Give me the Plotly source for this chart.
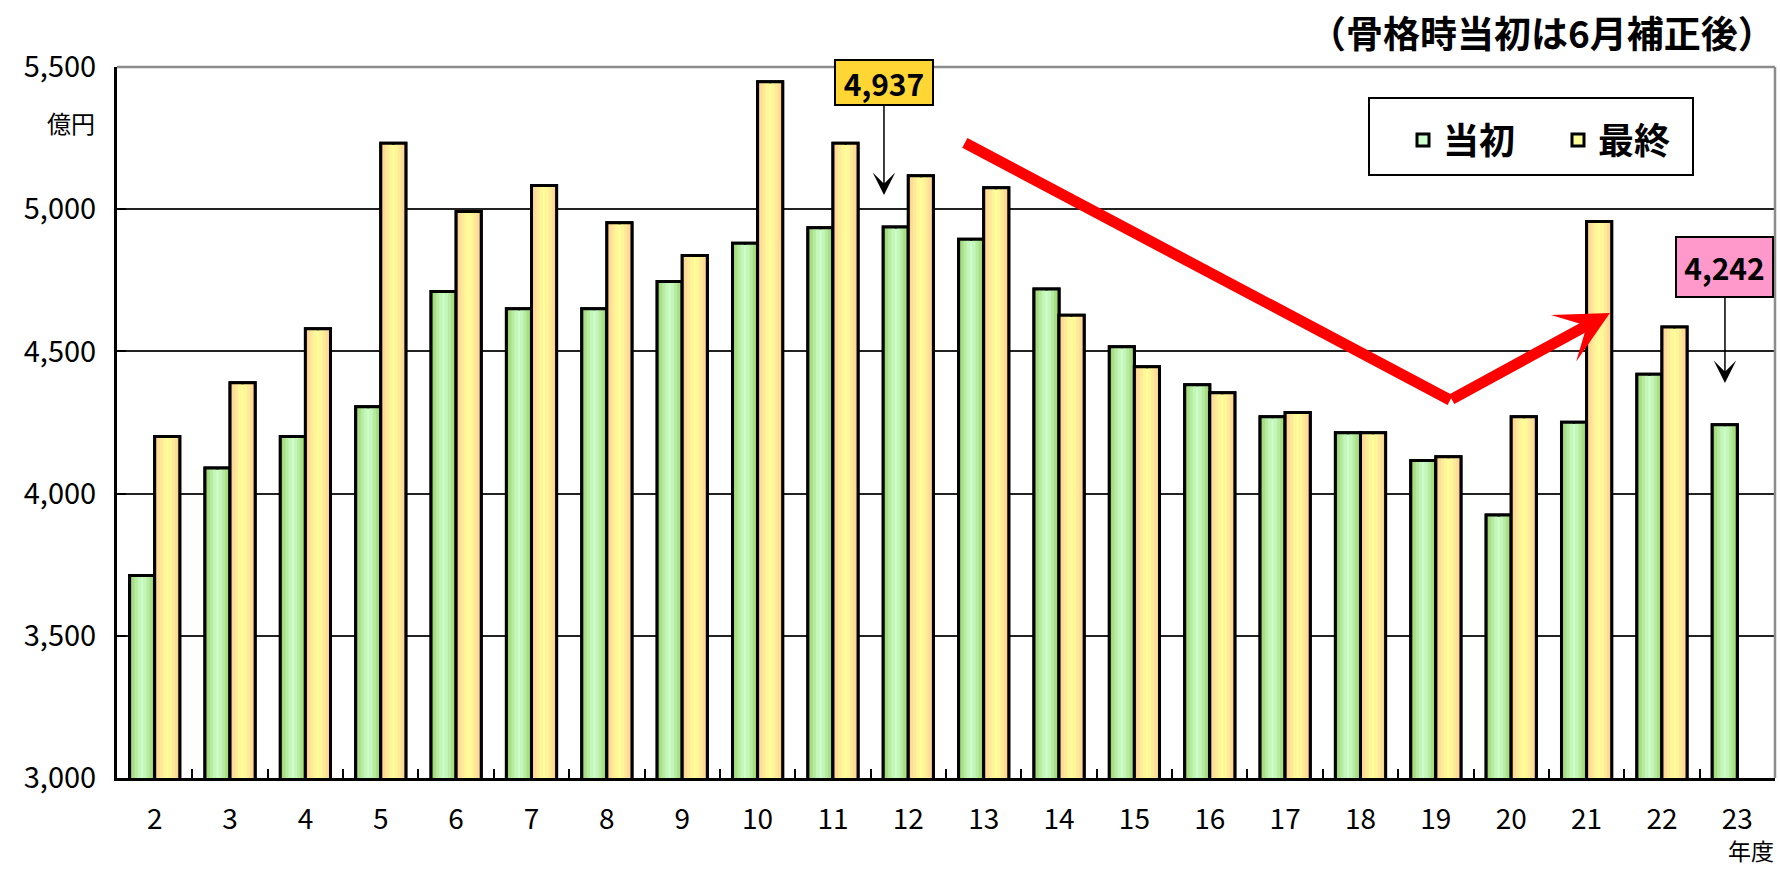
import plotly.graph_objects as go

# ---------------- data ----------------
years = ["2", "3", "4", "5", "6", "7", "8", "9", "10", "11", "12",
         "13", "14", "15", "16", "17", "18", "19", "20", "21", "22", "23"]
initial = [3712, 4090, 4201, 4305, 4711, 4650, 4650, 4746, 4880, 4935, 4937,
           4894, 4719, 4516, 4383, 4270, 4214, 4116, 3925, 4251, 4420, 4242]
final = [4201, 4390, 4580, 5232, 4992, 5083, 4952, 4837, 5448, 5232, 5118,
         5075, 4627, 4446, 4355, 4285, 4214, 4130, 4270, 4957, 4586, None]
y_ticks = [3000, 3500, 4000, 4500, 5000, 5500]

series_names = ["当初", "最終"]
title_text = "（骨格時当初は6月補正後）"
unit_text = "億円"
xunit_text = "年度"

# decorative trend arrow (category index, value)
trend_start = [10.75, 5233]
trend_vertex = [17.19, 4329]
trend_tip = [19.31, 4635]

# ---------------- style ----------------
FONT = "Noto Sans CJK JP"
BAR_W = 0.333
green_center = "#CCFFCC"
green_bands = [(0.46, "#C3F6B8"), (0.32, "#B6EBA0"), (0.20, "#A8DF86"), (0.09, "#96D064")]
yellow_center = "#FFFF99"
yellow_bands = [(0.46, "#FFF699"), (0.32, "#FFEA99"), (0.20, "#FFDD97"), (0.09, "#FFCC90")]

fig = go.Figure()


def add_series(name, vals, off, center, bands):
    fig.add_trace(go.Bar(x=years, y=vals, name=name, offset=off, width=BAR_W,
                         marker=dict(color=center, line=dict(color="black", width=3)),
                         showlegend=True, hoverinfo="skip"))
    for frac, col in bands:
        w = BAR_W * frac
        for o in (off, off + BAR_W - w):
            fig.add_trace(go.Bar(x=years, y=vals, offset=o, width=w,
                                 marker=dict(color=col, line=dict(width=0)),
                                 showlegend=False, hoverinfo="skip"))
    fig.add_trace(go.Bar(x=years, y=vals, offset=off, width=BAR_W,
                         marker=dict(color="rgba(0,0,0,0)", line=dict(color="black", width=3)),
                         showlegend=False, hoverinfo="skip"))


add_series(series_names[0], initial, -BAR_W, green_center, green_bands)
add_series(series_names[1], final, 0.0, yellow_center, yellow_bands)

# ---------------- layout ----------------
W, H = 1780, 869
ML, MR, MT, MB = 117, 5, 67, 91
PW, PH = W - ML - MR, H - MT - MB


def px(xp):
    return (xp - ML) / PW


def py(yp):
    return (H - MB - yp) / PH


fig.update_layout(
    width=W, height=H,
    margin=dict(l=ML, r=MR, t=MT, b=MB, pad=0),
    barmode="overlay",
    plot_bgcolor="white", paper_bgcolor="white",
    font=dict(family=FONT, color="black"),
    showlegend=True,
    legend=dict(orientation="h", x=px(1403), y=py(140), xanchor="left", yanchor="middle",
                bgcolor="rgba(0,0,0,0)", borderwidth=0, entrywidth=110,
                font=dict(size=36, family=FONT, color="black", weight="bold"),
                traceorder="normal", itemclick=False),
    xaxis=dict(type="category", range=[-0.5, len(years) - 0.5],
               showline=True, linecolor="black", linewidth=3,
               ticks="inside", tickson="boundaries", ticklen=9, tickwidth=2, tickcolor="black",
               showgrid=False, tickfont=dict(size=28, family=FONT, color="black"),
               ticklabelstandoff=14, fixedrange=True),
    yaxis=dict(range=[3000, 5500], tickvals=y_ticks, tickformat=",",
               showline=True, linecolor="black", linewidth=3,
               ticks="inside", ticklen=9, tickwidth=2, tickcolor="black",
               showgrid=True, gridcolor="#222222", gridwidth=1.5,
               tickfont=dict(size=29, family=FONT, color="black"),
               ticklabelstandoff=12, zeroline=False, fixedrange=True),
)

# gray top / right frame
fig.add_shape(type="line", xref="paper", yref="paper", x0=0, x1=1, y0=1, y1=1,
              line=dict(color="#8C8C8C", width=2.5))
fig.add_shape(type="line", xref="paper", yref="paper", x0=1, x1=1, y0=0, y1=1,
              line=dict(color="#8C8C8C", width=2.5))

# legend frame
fig.add_shape(type="rect", xref="paper", yref="paper",
              x0=px(1369), x1=px(1693), y0=py(175), y1=py(98),
              line=dict(color="black", width=2), fillcolor="white", layer="below")

# red trend line + arrow
fig.add_shape(type="line", xref="x", yref="y",
              x0=trend_start[0], y0=trend_start[1], x1=trend_vertex[0], y1=trend_vertex[1],
              line=dict(color="#FF0000", width=11))
fig.add_annotation(x=trend_tip[0], y=trend_tip[1], ax=trend_vertex[0], ay=trend_vertex[1],
                   xref="x", yref="y", axref="x", ayref="y", text="", showarrow=True,
                   arrowhead=3, arrowsize=0.8, arrowwidth=11, arrowcolor="#FF0000")

# callouts
fig.add_annotation(x=9.677, y=5050, xref="x", yref="y", text=f"<b>{initial[10]:,}</b>",
                   showarrow=True, ax=0, ay=-112, arrowhead=3, arrowsize=2.5, arrowwidth=1.5,
                   arrowcolor="black", bgcolor="#FFD633", bordercolor="black", borderwidth=2,
                   borderpad=0, width=96, height=43, font=dict(size=30, family=FONT, color="black"))
fig.add_annotation(x=20.836, y=4389, xref="x", yref="y", text=f"<b>{initial[21]:,}</b>",
                   showarrow=True, ax=0, ay=-116, arrowhead=3, arrowsize=2.5, arrowwidth=1.5,
                   arrowcolor="black", bgcolor="#FF99CC", bordercolor="black", borderwidth=2,
                   borderpad=0, width=95, height=58, font=dict(size=30, family=FONT, color="black"))

# texts
fig.add_annotation(xref="paper", yref="paper", x=px(1777), y=py(32), xanchor="right", yanchor="middle",
                   text=f"<b>{title_text}</b>", showarrow=False,
                   font=dict(size=37, family=FONT, color="black"))
fig.add_annotation(xref="paper", yref="paper", x=px(71), y=py(122), xanchor="center", yanchor="middle",
                   text=unit_text, showarrow=False, font=dict(size=24, family=FONT, color="black"))
fig.add_annotation(xref="paper", yref="paper", x=px(1751), y=py(850), xanchor="center", yanchor="middle",
                   text=xunit_text, showarrow=False, font=dict(size=23, family=FONT, color="black"))

fig.write_html("out.html", config={"displayModeBar": False})

# remove the default page margin so the figure sits at the window origin
with open("out.html", "r", encoding="utf-8") as f:
    html = f.read()
html = html.replace("<head>", "<head><style>html,body{margin:0;padding:0;overflow:hidden;}</style>", 1)
with open("out.html", "w", encoding="utf-8") as f:
    f.write(html)
